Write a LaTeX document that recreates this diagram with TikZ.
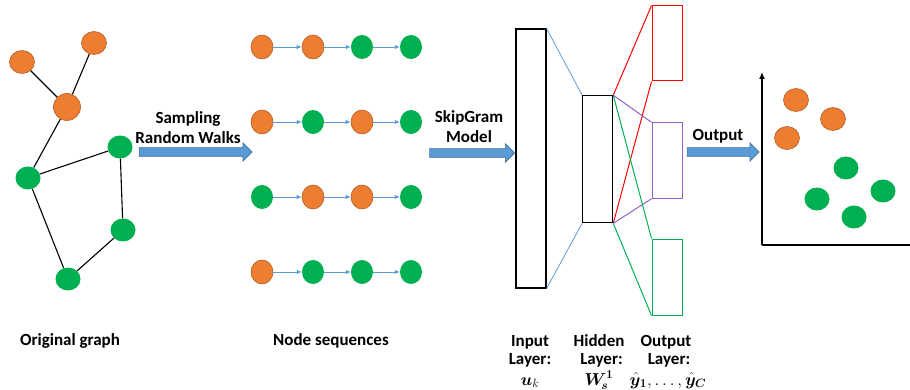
\documentclass[tikz,border=0pt]{standalone}
\usepackage{fontspec}
\setmainfont{Carlito}
\usepackage{amsmath,bm}
\usetikzlibrary{shapes.geometric,shapes.arrows,arrows.meta}
\definecolor{orgfill}{HTML}{ED7D31}
\definecolor{orgline}{HTML}{B0602A}
\definecolor{grnfill}{HTML}{00B050}
\definecolor{arrfill}{HTML}{5B9BD5}
\definecolor{arrline}{HTML}{41719C}
\definecolor{purp}{HTML}{9560C8}
\begin{document}
\begin{tikzpicture}[x=1pt,y=-1pt,
  onode/.style={ellipse,fill=orgfill,draw=orgline,line width=0.6pt,minimum width=25pt,minimum height=23pt,inner sep=0pt},
  gnode/.style={ellipse,fill=grnfill,minimum width=25pt,minimum height=23pt,inner sep=0pt},
  sonode/.style={onode,minimum width=22pt,minimum height=24pt},
  sgnode/.style={gnode,minimum width=22pt,minimum height=24pt},
  gedge/.style={line width=1.1pt,black},
  sarrow/.style={line width=0.9pt,arrfill,-{Latex[length=5pt,width=4.5pt]}},
  bigarrow/.style={single arrow,fill=arrfill,draw=arrline,line width=0.6pt,inner sep=4pt,single arrow head extend=5pt,anchor=center},
  lbl/.style={font=\fontsize{17}{20}\selectfont\bfseries,align=center,inner sep=0pt},
  llbl/.style={font=\fontsize{17}{18}\selectfont\bfseries,align=center,inner sep=0pt},
  mlbl/.style={font=\fontsize{17}{18}\selectfont,inner sep=0pt},
  layer/.style={draw,line width=1.1pt,inner sep=0pt},
  outbox/.style={draw,line width=1pt,inner sep=0pt,minimum width=30pt,minimum height=75pt}
]
\useasboundingbox (0,0) rectangle (910,390);
% original graph
\node[onode] (A) at (22,62) {};
\node[onode] (B) at (94,43) {};
\node[onode,minimum width=27pt,minimum height=27pt] (C) at (67,107) {};
\node[gnode] (D) at (120,147) {};
\node[gnode] (E) at (28,178) {};
\node[gnode] (F) at (123,230) {};
\node[gnode] (G) at (68,279) {};
\draw[gedge] (A) -- (C);
\draw[gedge] (B) -- (C);
\draw[gedge] (C) -- (E);
\draw[gedge] (E) -- (D);
\draw[gedge] (D) -- (F);
\draw[gedge] (E) -- (G);
\draw[gedge] (G) -- (F);
% sampling arrow
\node[bigarrow,minimum height=113pt] (arr1) at (193.5,152) {};
\node[lbl] (t1) at (188,128) {Sampling\\Random Walks};
% sequences
\node[sonode] (s11) at (262,47) {};
\node[sonode] (s12) at (313,47) {};
\node[sgnode] (s13) at (362,47) {};
\node[sgnode] (s14) at (411,47) {};
\node[sonode] (s21) at (262,122) {};
\node[sgnode] (s22) at (313,122) {};
\node[sonode] (s23) at (362,122) {};
\node[sgnode] (s24) at (411,122) {};
\node[sgnode] (s31) at (262,197) {};
\node[sonode] (s32) at (313,197) {};
\node[sonode] (s33) at (362,197) {};
\node[sgnode] (s34) at (411,197) {};
\node[sonode] (s41) at (262,272) {};
\node[sgnode] (s42) at (313,272) {};
\node[sgnode] (s43) at (362,272) {};
\node[sgnode] (s44) at (411,272) {};
\foreach \r in {1,2,3,4}{
  \draw[sarrow] (s\r1) -- (s\r2);
  \draw[sarrow] (s\r2) -- (s\r3);
  \draw[sarrow] (s\r3) -- (s\r4);
}
% skipgram arrow
\node[bigarrow,minimum height=85pt] (arr2) at (470,153) {};
\node[lbl] (t2) at (469,127) {SkipGram\\Model};
% network
\node[layer,minimum width=30pt,minimum height=259pt] (inp) at (531,158.5) {};
\node[layer,minimum width=30pt,minimum height=127pt] (hid) at (597.7,159.3) {};
\node[outbox,draw=red,minimum height=75pt] (o1) at (667,43.5) {};
\node[outbox,draw=purp,minimum height=75.5pt] (o2) at (667,160.5) {};
\node[outbox,draw=grnfill,minimum height=76pt] (o3) at (667,277) {};
\draw[arrfill,line width=0.8pt] (inp.north east) -- (hid.north west);
\draw[arrfill,line width=0.8pt] (inp.south east) -- (hid.south west);
\draw[red,line width=1pt] (hid.north east) -- (o1.north west);
\draw[red,line width=1pt] (hid.south east) -- (o1.south west);
\draw[purp,line width=1pt] (hid.north east) -- (o2.north west);
\draw[purp,line width=1pt] (hid.south east) -- (o2.south west);
\draw[grnfill,line width=1pt] (hid.north east) -- (o3.north west);
\draw[grnfill,line width=1pt] (hid.south east) -- (o3.south west);
% output arrow
\node[bigarrow,minimum height=72pt] (arr3) at (721,152) {};
\node[lbl] (t3) at (718,136) {Output};
% axes
\coordinate (orig) at (762,245);
\coordinate (ytop) at (762,72);
\coordinate (xend) at (912,245);
\draw[line width=2pt,-{Latex[length=7pt,width=6pt]}] (orig) -- (ytop);
\draw[line width=2pt] (orig) -- (xend);
% scatter
\node[onode] (p1) at (796,100) {};
\node[onode] (p2) at (833,119) {};
\node[onode] (p3) at (787,138) {};
\node[gnode] (p4) at (846,168) {};
\node[gnode] (p5) at (817,199) {};
\node[gnode] (p6) at (883,191) {};
\node[gnode] (p7) at (854,217) {};
% bottom labels
\node[lbl] (l1) at (70,341) {Original graph};
\node[lbl] (l2) at (331,341) {Node sequences};
\node[llbl] (l3) at (530,351) {Input\\Layer:};
\node[llbl] (l4) at (599,351) {Hidden\\\hspace*{5pt}Layer:};
\node[llbl] (l5) at (666,351) {Output\\\hspace*{6pt}Layer:};
\node[mlbl,anchor=base] (m1) at (530,385) {$\bm{u}_{k}$};
\node[mlbl,anchor=base] (m2) at (599,385) {$\bm{W}_{\!\bm{s}}^{\bm{1}}$};
\node[mlbl,anchor=base] (m3) at (668,385) {$\hat{\bm{y}}_{\bm{1}},\ldots,\hat{\bm{y}}_{\bm{C}}$};
\end{tikzpicture}
\end{document}
